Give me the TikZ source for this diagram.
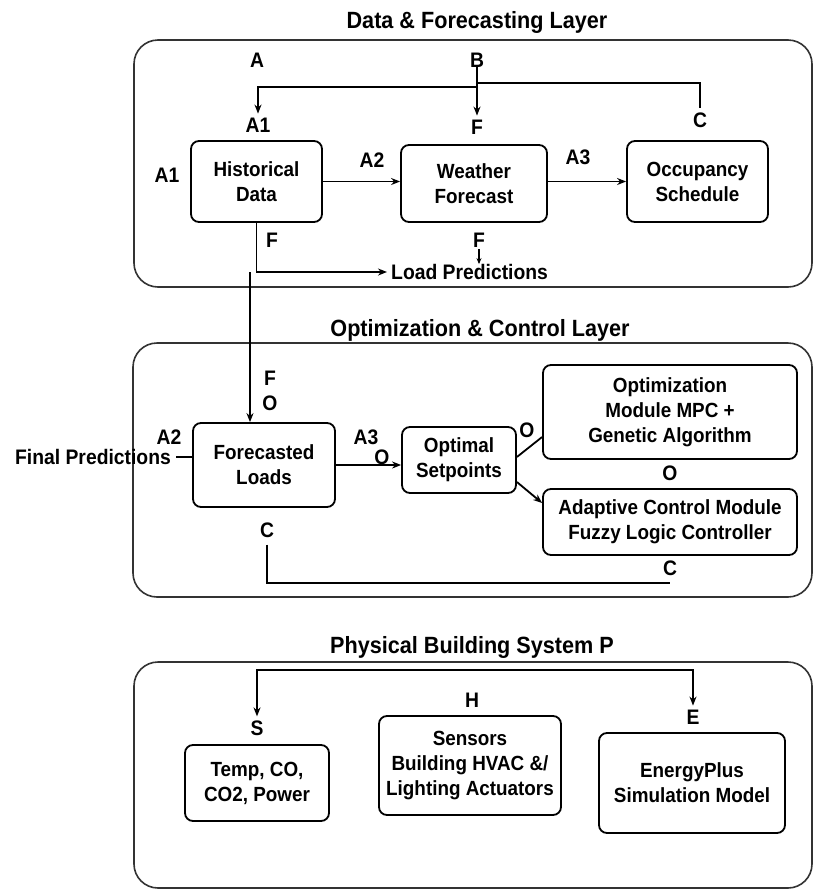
\documentclass[tikz,border=0pt]{standalone}
\usepackage{fontspec}
\setmainfont{Liberation Sans Bold}[FakeStretch=0.92]
\usetikzlibrary{arrows.meta}
\begin{document}
\begin{tikzpicture}[x=1pt,y=-1pt,
 txt/.style={font=\fontsize{21}{25}\selectfont, inner sep=0pt, align=center},
 ttl/.style={font=\fontsize{23.5}{28}\selectfont, inner sep=0pt},
 blk/.style={draw, line width=1.8pt, rounded corners=8pt, font=\fontsize{20.5}{25}\selectfont, align=center, inner sep=2pt},
 layer/.style={draw=black!80, line width=1.6pt, rounded corners=24pt},
 con/.style={line width=1.8pt},
 tip/.tip={Stealth[length=9pt,width=7pt]},
 arr/.style={con, -tip},
]
\fill[white] (0,0) rectangle (814,892);
\useasboundingbox (0,0) rectangle (814,892);

% ---------- layers ----------
\draw[layer] (134,40) rectangle (812,287);
\draw[layer] (133,343) rectangle (812,597);
\draw[layer] (134,662) rectangle (812,888);

% ---------- Data & Forecasting Layer ----------
\node[ttl] (t1) at (477,22) {Data \& Forecasting Layer};
\node[txt] (lA) at (257,60) {A};
\node[txt] (lB) at (477,60) {B};
\node[txt] (lA1t) at (258,125) {A1};
\node[txt] (lFt) at (477,127) {F};
\node[txt] (lCt) at (700,120) {C};
\node[txt] (lA1l) at (167,175) {A1};
\node[blk, minimum width=131pt, minimum height=81pt] (hist) at (256.5,181.5) {Historical\\Data};
\node[blk, minimum width=146pt, minimum height=77pt] (wea) at (474,183.5) {Weather\\Forecast};
\node[blk, minimum width=141pt, minimum height=81pt] (occ) at (697.5,181.5) {Occupancy\\Schedule};
\node[txt] (lA2t) at (372,160) {A2};
\node[txt] (lA3t) at (578,157) {A3};
\node[txt] (lFh) at (272,240) {F};
\node[txt] (lFw) at (479,240) {F};
\node[txt, anchor=west] (lp) at (391,272) {Load Predictions};

\coordinate (jL) at (477,87);
\coordinate (jR) at (477,83);
\draw[arr, shorten >=4pt] (lB.south) -- (lFt.north);
\draw[arr, shorten >=4pt] (jL) -| (lA1t.north);
\draw[con, shorten >=4pt] (jR) -| (lCt.north);
\draw[arr] (hist.east) -- (hist.east -| wea.west);
\draw[arr] (wea.east |- hist.east) -- (hist.east -| occ.west);
\draw[arr, shorten >=4pt] (hist.south) |- (lp.west);
\draw[con, -{Stealth[length=6pt,width=5pt]}, shorten <=2pt] (lFw.south) -- (lFw.south |- lp.north);

% ---------- Optimization & Control Layer ----------
\node[ttl] (t2) at (480,330) {Optimization \& Control Layer};
\node[txt] (lFm) at (270,378) {F};
\node[txt] (lOm) at (270,403) {O};
\node[blk, minimum width=142pt, minimum height=84pt] (fl) at (264,465) {Forecasted\\Loads};
\node[txt] (lA2m) at (169,437) {A2};
\node[txt] (fp) at (93,457) {Final Predictions};
\node[txt] (lA3m) at (366,437) {A3};
\node[txt] (lOa) at (382,457) {O};
\node[blk, minimum width=114pt, minimum height=66pt] (os) at (459,460) {Optimal\\Setpoints};
\node[blk, minimum width=254pt, minimum height=94pt] (opt) at (670,412) {Optimization\\Module MPC +\\Genetic Algorithm};
\node[txt] (lOo) at (527,430) {O};
\node[txt] (lOc) at (670,473) {O};
\node[blk, minimum width=254pt, minimum height=66pt] (ad) at (670,522) {Adaptive Control Module\\Fuzzy Logic Controller};
\node[txt] (lC1) at (267,530) {C};
\node[txt] (lC2) at (670,568) {C};

\coordinate (jF) at (250,272);
\draw[arr] (jF) -- (jF |- fl.north);
\draw[con, shorten <=5pt] (fp.east) -- (fp.east -| fl.west);
\draw[arr] (fl.east) -- (fl.east -| os.west);
\draw[con] ([yshift=3pt]os.east) -- ([yshift=-25pt]opt.west);
\draw[arr] ([yshift=-22pt]os.east) -- ([yshift=19pt]ad.west);
\draw[con, shorten <=7pt] (lC1.south) |- ([yshift=-7pt]lC2.south);

% ---------- Physical Building System ----------
\node[ttl] (t3) at (472,647) {Physical Building System P};
\node[txt] (lS) at (257,728) {S};
\node[txt] (lH) at (472,700) {H};
\node[txt] (lE) at (693,717) {E};
\node[blk, minimum width=144pt, minimum height=76pt] (temp) at (257,783) {Temp, CO,\\CO2, Power};
\node[blk, minimum width=182pt, minimum height=99pt] (sens) at (470,765.5) {Sensors\\Building HVAC \&/\\Lighting Actuators};
\node[blk, minimum width=186pt, minimum height=100pt] (ep) at (692,783) {EnergyPlus\\Simulation Model};

\draw[con, tip-tip, shorten <=4pt, shorten >=4pt] (lS.north) -- (lS.north |- 0,670) -| (lE.north);
\end{tikzpicture}
\end{document}
